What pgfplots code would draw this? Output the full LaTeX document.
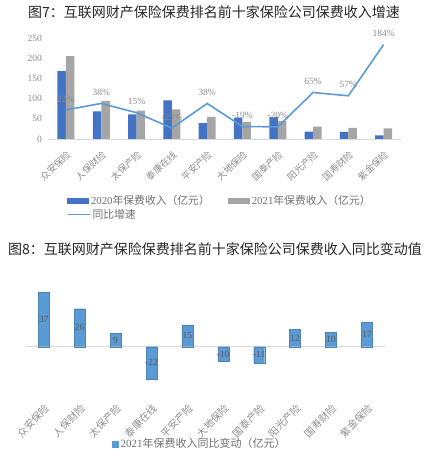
\documentclass[border=0pt]{standalone}
\usepackage{fontspec}
\setmainfont{Liberation Serif}
\newfontfamily\cjk{Noto Sans CJK SC}
\usepackage{pgfplots}
\pgfplotsset{compat=1.18}

\definecolor{cBlue}{HTML}{4472C4}
\definecolor{cGray}{HTML}{A5A5A5}
\definecolor{cLine}{HTML}{5B9BD5}
\definecolor{cText}{HTML}{8C8C8C}
\definecolor{cAxis}{HTML}{D9D9D9}

\begin{document}
\begin{tikzpicture}
\useasboundingbox (0,0) rectangle (428pt,468pt);

% titles
\node[font=\cjk\fontsize{14}{14}\selectfont, text=black!85] at (214pt,456pt) {图7：互联网财产保险保费排名前十家保险公司保费收入增速};
\node[font=\cjk\fontsize{14}{14}\selectfont, text=black!85] at (215pt,218.5pt) {图8：互联网财产保险保费排名前十家保险公司保费收入同比变动值};

% chart 7: premiums
\begin{axis}[
    at={(48.3pt,329pt)}, anchor=south west,
    x=35.3pt, y=0.404pt,
    xmin=-0.5, xmax=9.5, ymin=0, ymax=250,
    enlargelimits=false, clip=false,
    ybar=0pt, bar width=8.5pt,
    axis lines*=left,
    y axis line style={draw=none},
    x axis line style={cAxis, line width=0.8pt},
    tick style={draw=none},
    ytick={0,50,...,250},
    /pgf/number format/assume math mode=true,
    yticklabel style={font=\fontsize{9.5}{10}\selectfont, text=cText, xshift=-3pt},
    xtick={0,...,9},
    xticklabels={众安保险,人保财险,太保产险,泰康在线,平安产险,大地保险,国泰产险,阳光产险,国寿财险,紫金保险},
    xticklabel shift=5pt,
    xticklabel style={rotate=43, anchor=north east, inner sep=1pt,
        font=\cjk\fontsize{9.3}{10}\selectfont, text=cText},
    legend columns=2,
    legend style={at={(0.044,-0.515)}, anchor=north west, draw=none, fill=none,
        font=\fontsize{10.8}{12}\selectfont, text=cText!80!black,
        /tikz/every even column/.append style={column sep=16pt}},
]
\addplot[fill=cBlue, draw=none,
    legend image code/.code={\fill[cBlue] (0pt,-3pt) rectangle (22pt,3pt);}]
    coordinates {(0,168) (1,68.4) (2,61) (3,95.6) (4,39.5) (5,52.6) (6,55) (7,18.5) (8,17.5) (9,9.2)};
\addlegendentry{2020{\cjk 年保费收入（亿元）}}
\addplot[fill=cGray, draw=none,
    legend image code/.code={\fill[cGray] (0pt,-3pt) rectangle (22pt,3pt);}]
    coordinates {(0,205) (1,94.4) (2,70) (3,73.6) (4,54.5) (5,42.6) (6,44) (7,30.5) (8,27.5) (9,26.2)};
\addlegendentry{2021{\cjk 年保费收入（亿元）}}
\end{axis}

% chart 7: growth rate (secondary, hidden axis)
\begin{axis}[
    at={(48.3pt,329pt)}, anchor=south west,
    x=35.3pt, y=0.404pt,
    xmin=-0.5, xmax=9.5, ymin=-50, ymax=200,
    enlargelimits=false, clip=false,
    hide axis,
    legend style={at={(0.044,-0.655)}, anchor=north west, draw=none, fill=none,
        font=\fontsize{10.8}{12}\selectfont, text=cText!80!black},
]
\addplot[cLine, line width=1.6pt, mark=none,
    nodes near coords={\pgfmathprintnumber[assume math mode=true]{\pgfplotspointmeta}\%},
    every node near coord/.append style={anchor=center, yshift=11pt,
        font=\fontsize{9.5}{10}\selectfont, text=cText},
    legend image code/.code={\draw[cLine, line width=1.5pt] (0pt,0pt) -- (22pt,0pt);}]
    coordinates {(0,22) (1,38) (2,15) (3,-23) (4,38) (5,-19) (6,-20) (7,65) (8,57) (9,184)};
\addlegendentry{{\cjk 同比增速}}
\end{axis}

% chart 8: year-on-year change
\begin{axis}[
    at={(25.85pt,70.2pt)}, anchor=south west,
    x=35.9pt, y=1.46pt,
    xmin=-0.5, xmax=9.5, ymin=-35, ymax=45,
    enlargelimits=false, clip=false,
    ybar, bar width=11pt,
    axis line style={draw=none},
    tick style={draw=none},
    ytick={0}, yticklabels={},
    ymajorgrids=true,
    major grid style={cAxis, line width=0.8pt},
    xtick={0,...,9},
    xticklabels={众安保险,人保财险,太保产险,泰康在线,平安产险,大地保险,国泰产险,阳光产险,国寿财险,紫金保险},
    xticklabel shift=0pt,
    xticklabel style={rotate=45, anchor=north east, inner sep=1pt,
        font=\cjk\fontsize{10}{11}\selectfont, text=cText},
    /pgf/number format/assume math mode=true,
    legend style={at={(0.232,-0.395)}, anchor=west, draw=none, fill=none,
        font=\fontsize{11}{12}\selectfont, text=cText!80!black},
]
\addplot[fill=cLine, draw=cLine!85!black, line width=0.4pt,
    visualization depends on={rawy \as \rawy},
    nodes near coords,
    every node near coord/.append style={anchor=center, yshift={-0.73pt*\rawy},
        font=\fontsize{9.5}{10}\selectfont, text=black!65},
    legend image code/.code={\fill[cLine] (0pt,-3pt) rectangle (6pt,3pt);}]
    coordinates {(0,37) (1,26) (2,9) (3,-22) (4,15) (5,-10) (6,-11) (7,12) (8,10) (9,17)};
\addlegendentry{2021{\cjk 年保费收入同比变动（亿元）}}
\end{axis}
\end{tikzpicture}
\end{document}
